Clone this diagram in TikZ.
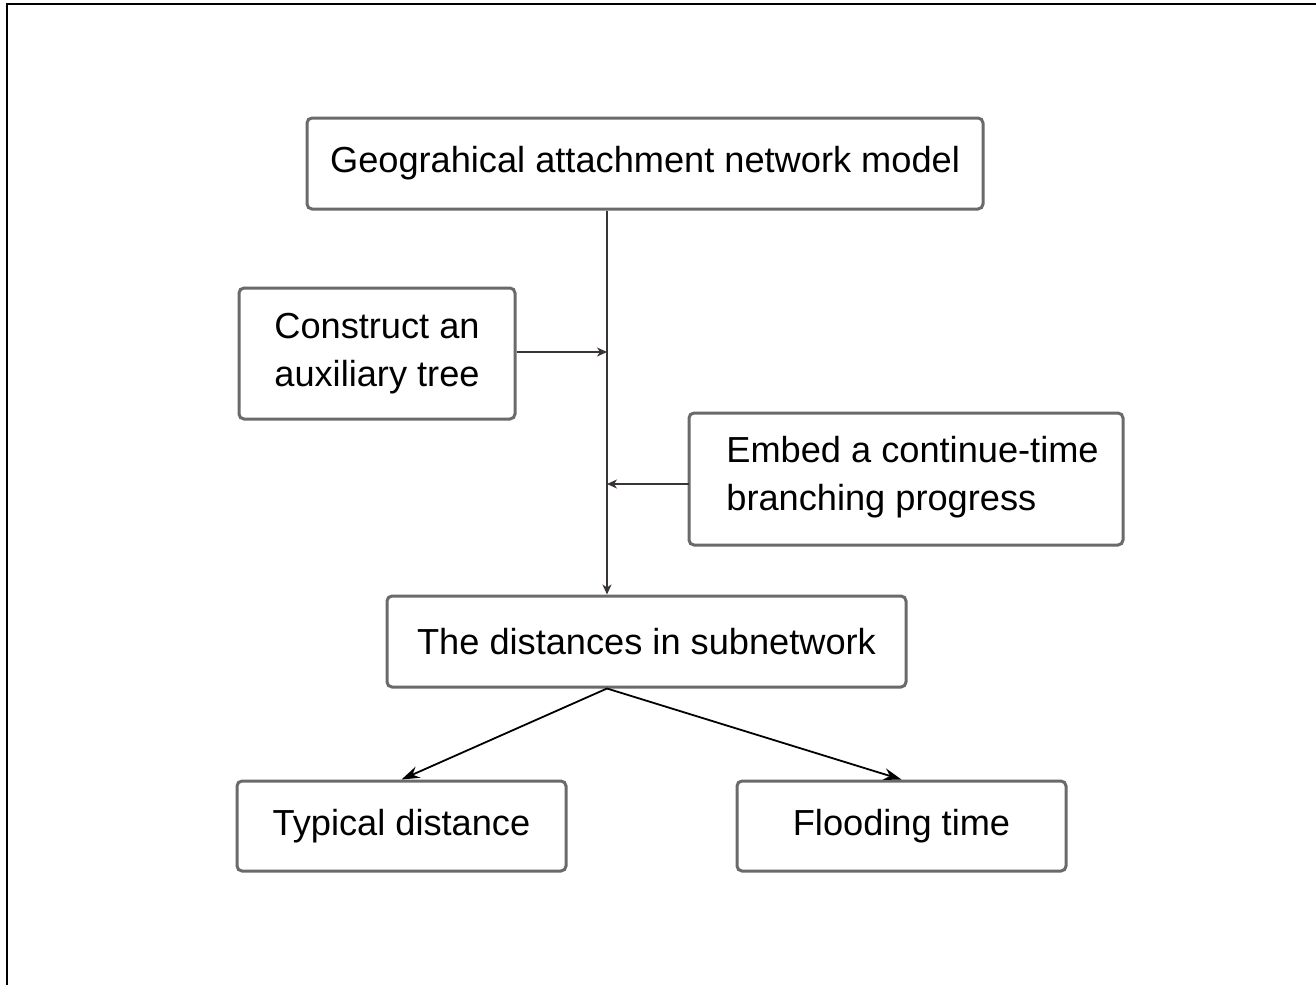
\documentclass[tikz,border=0pt]{standalone}
\usepackage{fontspec}
\setmainfont{Liberation Sans}
\usetikzlibrary{arrows.meta}
\definecolor{boxgray}{HTML}{6A6A6A}
\definecolor{linegray}{HTML}{3A3535}
\tikzset{
  box/.style={draw=boxgray, line width=1.5pt, rounded corners=2.5pt, fill=white,
    inner sep=0pt, font=\fontsize{18.1}{24}\selectfont, text=black},
  thinarrow/.style={draw=linegray, line width=0.7pt, -{Stealth[length=5pt,width=4.5pt,inset=1.5pt]}},
  thickarrow/.style={draw=black, line width=0.9pt, -{Stealth[length=9pt,width=6pt,inset=3pt]}}
}
\begin{document}
\begin{tikzpicture}[x=0.5pt,y=-0.5pt]
\useasboundingbox (0,0) rectangle (1316,985);
\draw[line width=1pt] (7,985) -- (7,4) -- (1316,4);
\node[box, minimum width=338pt, minimum height=45.5pt] (top) at (645,163.5) {Geograhical attachment network model};
\node[box, minimum width=138pt, minimum height=65.5pt, align=left] (aux) at (377,353.5) {Construct an\\auxiliary tree};
\node[box, minimum width=217pt, minimum height=66pt] (emb) at (906,479) {};
\node[align=left, inner sep=0pt, font=\fontsize{18.1}{24}\selectfont, anchor=west] (embt) at (726,477) {Embed a continue-time\\branching progress};
\node[box, minimum width=259.5pt, minimum height=45.5pt] (dist) at (646.5,641.5) {The distances in subnetwork};
\node[box, minimum width=164.5pt, minimum height=45pt] (typ) at (401.5,826) {Typical distance};
\node[box, minimum width=164.5pt, minimum height=45pt] (flo) at (901.5,826) {Flooding time};
\coordinate (v) at (607,0);
\coordinate (a1) at (607,352);
\coordinate (a2) at (607,484);
\coordinate (e2) at (689,484);
\draw[thinarrow] (top.south -| v) -- (dist.north -| v);
\draw[thinarrow] (aux.east |- a1) -- (a1);
\draw[thinarrow] (e2) -- (a2);
\draw[thickarrow] (dist.south -| v) -- (typ.north);
\draw[thickarrow] (dist.south -| v) -- (flo.north);
\end{tikzpicture}
\end{document}
